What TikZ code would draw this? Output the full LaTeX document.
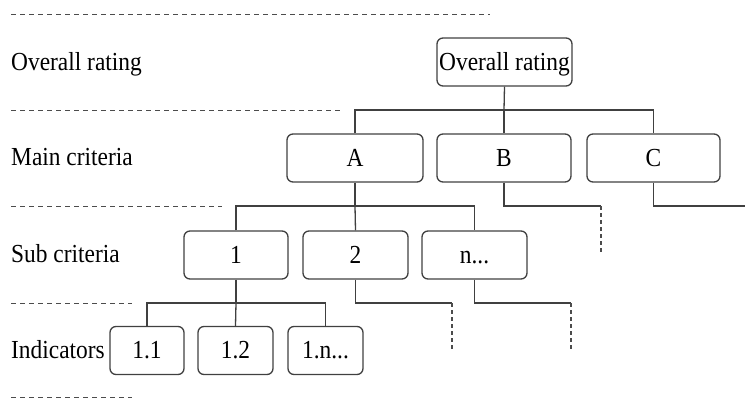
\documentclass[tikz,border=0pt]{standalone}
\usepackage{fontspec}
\setmainfont{Liberation Serif}[FakeStretch=0.9]
\begin{document}
\begin{tikzpicture}[x=1pt,y=-1pt,
  box/.style={draw=black!75, line width=1.3pt, rounded corners=6pt, inner sep=0pt,
    minimum height=48pt, text height=16pt, text depth=0pt, font=\fontsize{26}{28}\selectfont},
  conn/.style={draw=black!75, line width=1.3pt},
  dconn/.style={draw=black!70, line width=1.3pt, dash pattern=on 4pt off 3pt},
  sep/.style={draw=black!70, line width=1pt, dash pattern=on 5pt off 4pt},
  lab/.style={anchor=base west, inner sep=0pt, font=\fontsize{26}{28}\selectfont}]
\useasboundingbox (0,0) rectangle (745,399);
% level labels
\node[lab] (lOR) at (11,70) {Overall rating};
\node[lab] (lMC) at (11,165) {Main criteria};
\node[lab] (lSC) at (11,262) {Sub criteria};
\node[lab] (lIN) at (11,358) {Indicators};
% separators
\coordinate (s1a) at (11,14);  \coordinate (s1b) at (490,14);
\coordinate (s2a) at (11,110); \coordinate (s2b) at (340,110);
\coordinate (s3a) at (11,206); \coordinate (s3b) at (222,206);
\coordinate (s4a) at (11,303); \coordinate (s4b) at (132,303);
\coordinate (s5a) at (11,397); \coordinate (s5b) at (132,397);
\draw[sep] (s1a) -- (s1b);
\draw[sep] (s2a) -- (s2b);
\draw[sep] (s3a) -- (s3b);
\draw[sep] (s4a) -- (s4b);
\draw[sep] (s5a) -- (s5b);
% boxes
\node[box, minimum width=135pt] (OR) at (504.5,62) {Overall rating};
\node[box, minimum width=136pt] (A) at (355,158) {A};
\node[box, minimum width=134pt] (B) at (504,158) {B};
\node[box, minimum width=133pt] (C) at (653.5,158) {C};
\node[box, minimum width=104pt] (n1) at (236,255) {1};
\node[box, minimum width=105pt] (n2) at (355.5,255) {2};
\node[box, minimum width=105pt] (nn) at (474.5,255) {n...};
\node[box, minimum width=74pt] (i11) at (147,350.5) {1.1};
\node[box, minimum width=75pt] (i12) at (235.5,350.5) {1.2};
\node[box, minimum width=75pt] (i1n) at (325.5,350.5) {1.n...};
% bus coordinates
\coordinate (bus1) at (504,110);
\coordinate (bus2) at (355,206);
\coordinate (bus3) at (236,303);
\coordinate (bB) at (601,206);  \coordinate (bBe) at (601,253);
\coordinate (bC) at (745,206);
\coordinate (b2) at (452,303);  \coordinate (b2e) at (452,349);
\coordinate (bn) at (571,303);  \coordinate (bne) at (571,349);
% connectors
\draw[conn] (OR.south) -- (bus1);
\draw[conn] (A.north) |- (bus1) -| (C.north);
\draw[conn] (bus1) -- (B.north);
\draw[conn] (A.south) -- (bus2);
\draw[conn] (n1.north) |- (bus2) -| (nn.north);
\draw[conn] (bus2) -- (n2.north);
\draw[conn] (B.south) |- (bB);
\draw[dconn] (bB) -- (bBe);
\draw[conn] (C.south) |- (bC);
\draw[conn] (n1.south) -- (bus3);
\draw[conn] (i11.north) |- (bus3) -| (i1n.north);
\draw[conn] (bus3) -- (i12.north);
\draw[conn] (n2.south) |- (b2);
\draw[dconn] (b2) -- (b2e);
\draw[conn] (nn.south) |- (bn);
\draw[dconn] (bn) -- (bne);
\end{tikzpicture}
\end{document}
